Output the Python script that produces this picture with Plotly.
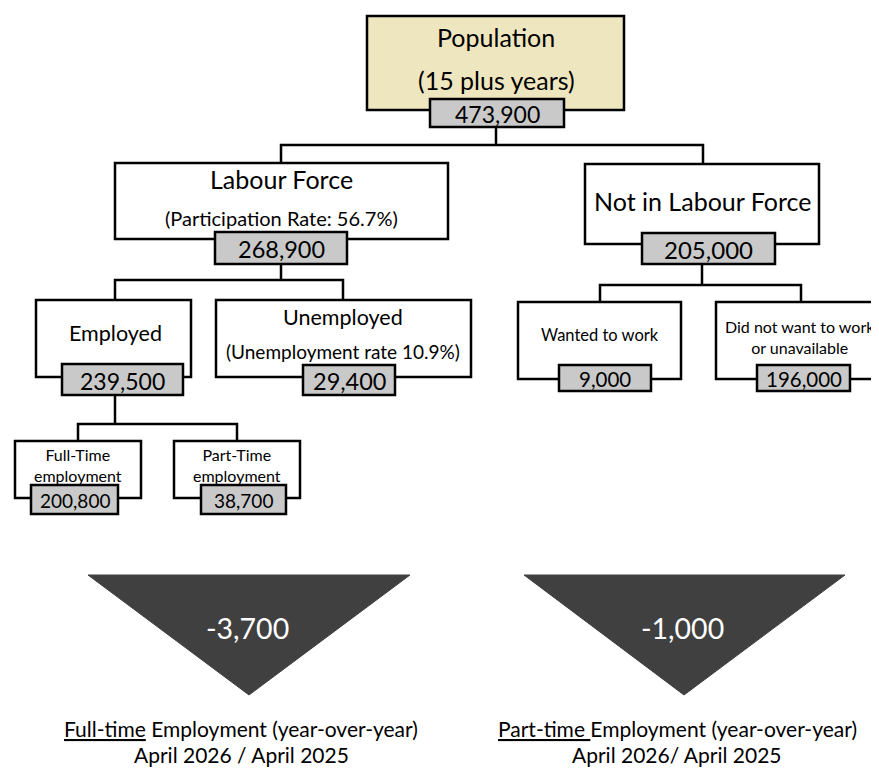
import plotly.graph_objects as go

# ---------------- data ----------------
node_ids = ["pop", "lf", "nlf", "emp", "unemp", "want", "notwant", "ft", "pt"]
node_titles = [
    "Population",
    "Labour Force",
    "Not in Labour Force",
    "Employed",
    "Unemployed",
    "Wanted to work",
    "Did not want to work<br>or unavailable",
    "Full-Time<br>employment",
    "Part-Time<br>employment",
]
node_subtitles = [
    "(15 plus years)",
    "(Participation Rate: 56.7%)",
    "",
    "",
    "(Unemployment rate 10.9%)",
    "",
    "",
    "",
    "",
]
node_values = [473900, 268900, 205000, 239500, 29400, 9000, 196000, 200800, 38700]

change_values = [-3700, -1000]
change_titles = [
    "<u>Full-time</u> Employment (year-over-year)",
    "<u>Part-time </u>Employment (year-over-year)",
]
change_periods = ["April 2026 / April 2025", "April 2026/ April 2025"]

# ---------------- layout geometry (pixels, y downwards) ----------------
geom = {
    "pop":     dict(box=(359, 616, 8, 102),  vbox=(422, 556, 91, 119), cx=488, ty=29,  sy=72,  tf=25, sf=25, vf=23, fill="#EEE6BF"),
    "lf":      dict(box=(107, 440, 155, 231), vbox=(207, 339, 224, 256), cx=273, ty=171, sy=210, tf=25, sf=20, vf=23.5, fill="white"),
    "nlf":     dict(box=(577, 811, 156, 236), vbox=(634, 767, 225, 256), cx=694, ty=193, sy=None, tf=25, sf=0, vf=24, fill="white"),
    "emp":     dict(box=(28, 183, 292, 369),  vbox=(54, 175, 356, 387), cx=107, ty=325, sy=None, tf=21.5, sf=0, vf=23, fill="white"),
    "unemp":   dict(box=(208, 463, 292, 369), vbox=(295, 387, 357, 387), cx=335, ty=309, sy=343, tf=21.5, sf=19, vf=23.5, fill="white"),
    "want":    dict(box=(510, 673, 294, 371), vbox=(551, 643, 357, 383), cx=592, ty=327, sy=None, tf=16.5, sf=0, vf=20.5, fill="white"),
    "notwant": dict(box=(708, 877, 294, 371), vbox=(749, 842, 357, 383), cx=792, ty=329, sy=None, tf=16, sf=0, vf=20.5, fill="white"),
    "ft":      dict(box=(7, 133, 433, 490),   vbox=(23, 110, 477, 506), cx=70,  ty=457, sy=None, tf=16, sf=0, vf=19, fill="white"),
    "pt":      dict(box=(166, 292, 433, 490), vbox=(193, 278, 477, 506), cx=229, ty=457, sy=None, tf=16, sf=0, vf=19, fill="white"),
}

connectors = [
    [(488, 119), (488, 137)],
    [(273, 155), (273, 137), (695, 137), (695, 156)],
    [(273, 256), (273, 272)],
    [(107, 292), (107, 272), (335, 272), (335, 292)],
    [(694, 256), (694, 277)],
    [(592, 294), (592, 277), (793, 277), (793, 294)],
    [(107, 387), (107, 416)],
    [(70, 433), (70, 416), (229, 416), (229, 433)],
]

triangles = [
    dict(x0=80, x1=402, top=567, apex=(241, 687), tx=239, ty=620, lx=233, l1=720, l2=746),
    dict(x0=516, x1=837, top=567, apex=(676, 687), tx=674, ty=620, lx=669, l1=720, l2=746),
]

FONT = "Lato"
LW = 2.5
shapes = []
annotations = []


def add_text(x, y, text, size, color="black"):
    annotations.append(dict(x=x, y=y, text=text, showarrow=False, xref="x", yref="y",
                            xanchor="center", yanchor="middle",
                            font=dict(family=FONT, size=size, color=color)))


for seg in connectors:
    path = "M " + " L ".join(f"{x},{y}" for x, y in seg)
    shapes.append(dict(type="path", path=path, xref="x", yref="y",
                       line=dict(color="black", width=LW), layer="below"))

for nid, title, sub, val in zip(node_ids, node_titles, node_subtitles, node_values):
    g = geom[nid]
    x0, x1, y0, y1 = g["box"]
    shapes.append(dict(type="rect", x0=x0, x1=x1, y0=y0, y1=y1, xref="x", yref="y",
                       fillcolor=g["fill"], line=dict(color="black", width=LW), layer="above"))
    vx0, vx1, vy0, vy1 = g["vbox"]
    shapes.append(dict(type="rect", x0=vx0, x1=vx1, y0=vy0, y1=vy1, xref="x", yref="y",
                       fillcolor="#C9C9C9", line=dict(color="black", width=LW), layer="above"))
    add_text(g["cx"], g["ty"], title, g["tf"])
    if sub:
        add_text(g["cx"], g["sy"], sub, g["sf"])
    add_text((vx0 + vx1) / 2, (vy0 + vy1) / 2 + 1, f"{val:,}", g["vf"])

for t, val, title, period in zip(triangles, change_values, change_titles, change_periods):
    ax, ay = t["apex"]
    shapes.append(dict(type="path", path=f"M {t['x0']},{t['top']} L {t['x1']},{t['top']} L {ax},{ay} Z",
                       xref="x", yref="y", fillcolor="#404040", line=dict(color="#404040", width=1)))
    add_text(t["tx"], t["ty"], f"{val:,}", 28.5, "white")
    add_text(t["lx"], t["l1"], title, 21)
    add_text(t["lx"], t["l2"], period, 21)

fig = go.Figure()
fig.add_trace(go.Scatter(x=[0, 879], y=[0, 770], mode="markers", marker=dict(opacity=0),
                         hoverinfo="skip", showlegend=False))
fig.update_layout(
    width=879, height=770,
    margin=dict(l=0, r=0, t=0, b=0),
    paper_bgcolor="white", plot_bgcolor="white",
    xaxis=dict(range=[0, 879], visible=False, fixedrange=True),
    yaxis=dict(range=[770, 0], visible=False, fixedrange=True),
    shapes=shapes, annotations=annotations,
    showlegend=False,
)
fig.write_html("out.html")
